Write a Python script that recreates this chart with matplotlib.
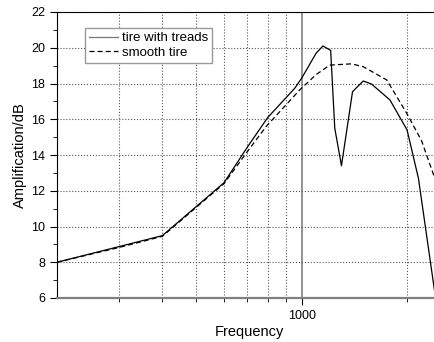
import matplotlib.pyplot as plt
from matplotlib.ticker import FixedLocator, NullFormatter, FixedFormatter

# data
freq_treads = [200, 300, 400, 600, 700, 800, 955, 1000, 1100, 1150, 1210, 1243, 1299, 1397, 1499, 1583, 1787, 2000, 2155, 2400]
amp_treads = [8.0, 8.87, 9.49, 12.45, 14.45, 16.1, 17.73, 18.3, 19.7, 20.1, 19.85, 15.5, 13.4, 17.54, 18.14, 17.97, 17.08, 15.4, 12.7, 6.3]

freq_smooth = [200, 300, 400, 600, 694, 792, 987, 1100, 1203, 1388, 1499, 1749, 2000, 2200, 2400]
amp_smooth = [8.0, 8.82, 9.45, 12.4, 14.1, 15.6, 17.64, 18.5, 19.03, 19.1, 18.94, 18.2, 16.3, 14.8, 12.7]

minor_x = [300, 400, 500, 600, 700, 800, 900, 2000]

plt.rcParams['font.family'] = ['Liberation Sans', 'DejaVu Sans']

fig = plt.figure(figsize=(4.34, 3.42), dpi=100)
ax = fig.add_axes([57 / 434, 1 - 298 / 342, 384 / 434, 286 / 342])

ax.plot(freq_treads, amp_treads, color='black', lw=0.9, label='tire with treads')
ax.plot(freq_smooth, amp_smooth, color='black', lw=0.9, ls=(0, (4, 2.5)), label='smooth tire')

ax.set_xscale('log')
ax.set_xlim(200, 2500)
ax.set_ylim(6, 22)

ax.xaxis.set_major_locator(FixedLocator([1000]))
ax.xaxis.set_major_formatter(FixedFormatter(['1000']))
ax.xaxis.set_minor_locator(FixedLocator(minor_x))
ax.xaxis.set_minor_formatter(NullFormatter())
ax.set_yticks(range(6, 23, 2))
ax.set_yticks(range(7, 22, 2), minor=True)

ax.tick_params(which='both', direction='out', labelsize=9, color='black')
ax.tick_params(which='major', length=5)
ax.tick_params(which='minor', length=3)

ax.grid(True, axis='y', which='major', ls=':', color='#555555', lw=0.8)
ax.grid(True, axis='x', which='minor', ls=':', color='#555555', lw=0.8)
ax.axvline(1000, color='#808080', lw=1.2, zorder=1)

ax.spines['right'].set_visible(False)
ax.spines['bottom'].set_color('#808080')
ax.spines['bottom'].set_linewidth(1.6)

ax.set_xlabel('Frequency', fontsize=10.5, labelpad=2)
ax.set_ylabel('Amplification/dB', fontsize=10.5, labelpad=3)

leg = ax.legend(loc='upper left', bbox_to_anchor=(0.073, 0.944), borderaxespad=0,
                fontsize=9.5, fancybox=False, framealpha=1, edgecolor='#999999',
                handlelength=2.2, handletextpad=0.3, borderpad=0.3, labelspacing=0.2)
leg.get_frame().set_linewidth(1.0)
leg.get_lines()[0].set_color('#777777')

fig.savefig('out.png', dpi=100)
